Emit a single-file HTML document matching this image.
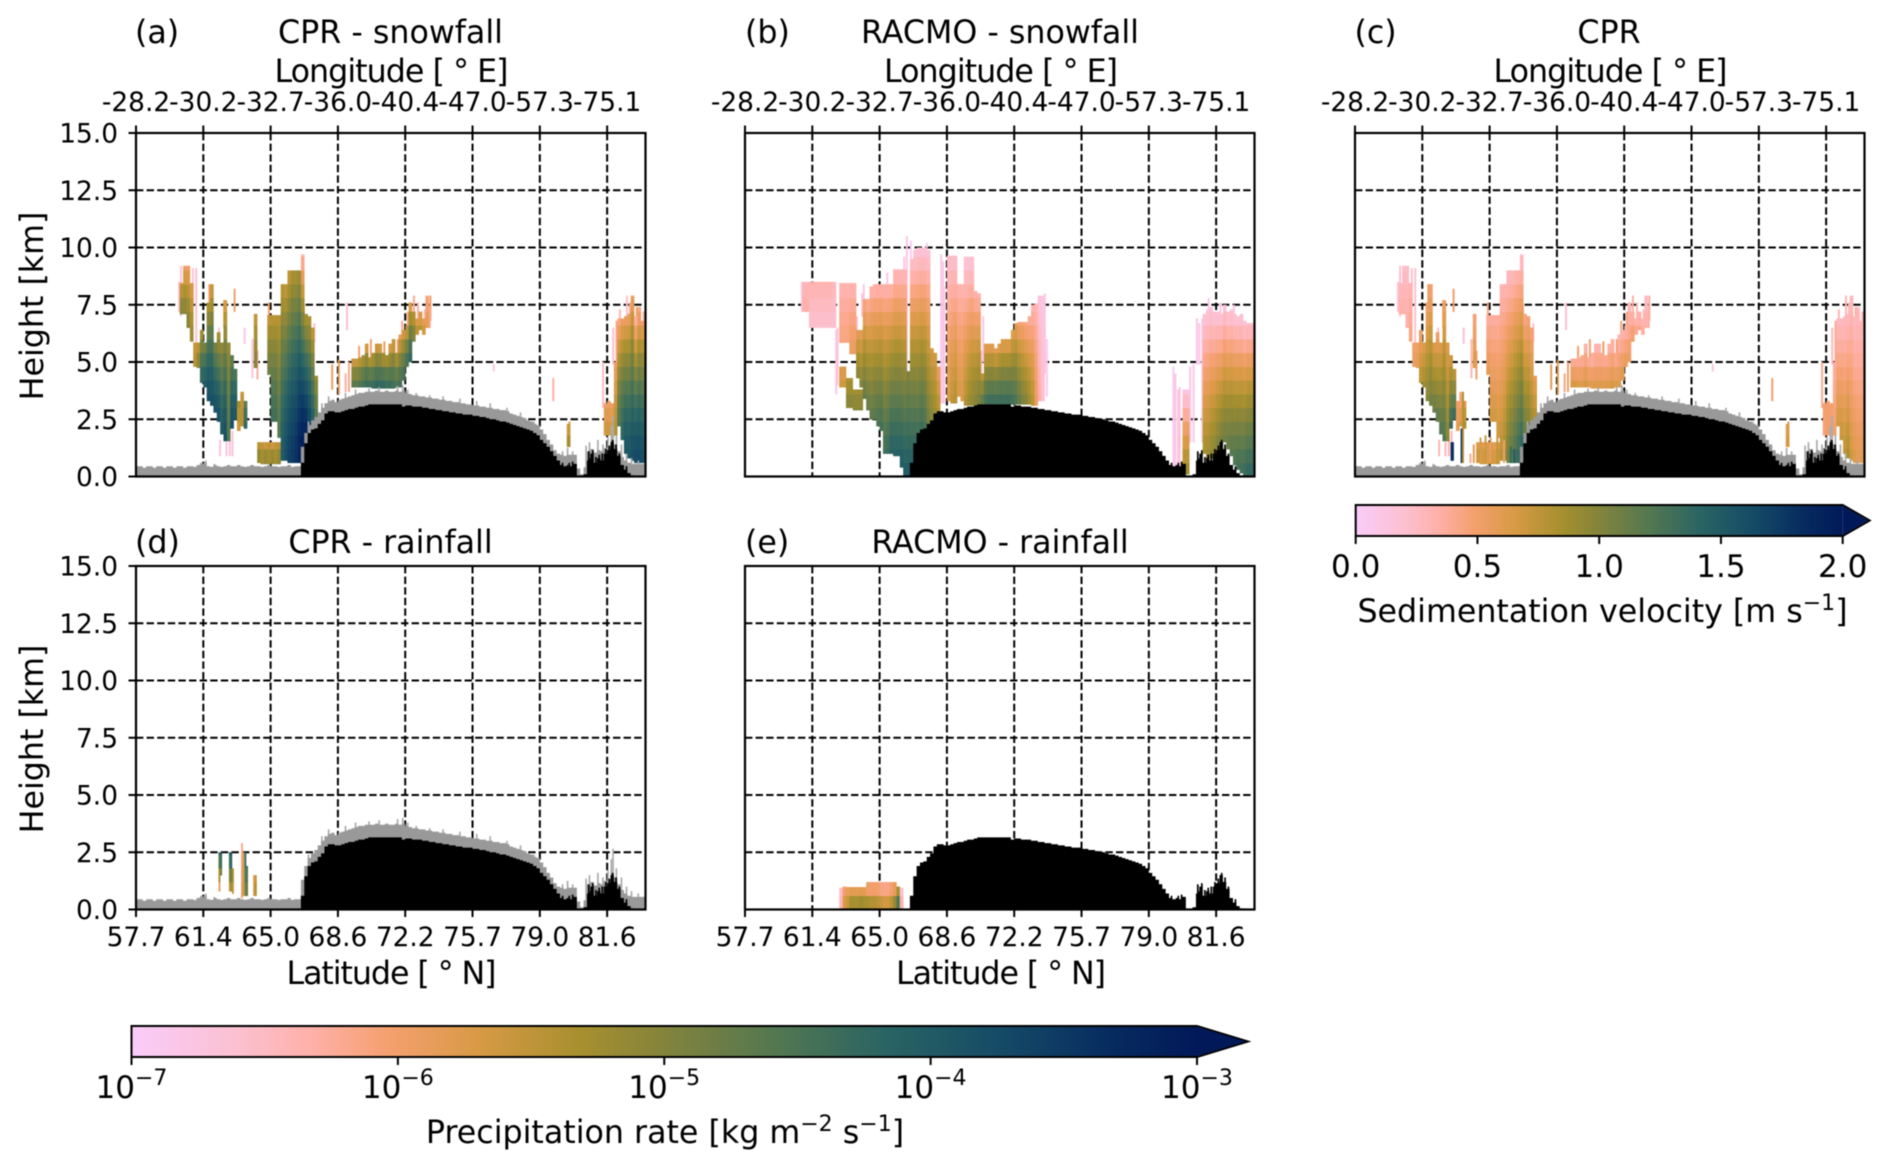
<!DOCTYPE html>
<html lang="en">
<head>
<meta charset="utf-8">
<title>CPR and RACMO precipitation cross-sections</title>
<style>
html,body{margin:0;padding:0;background:#fff;width:1892px;height:1169px;overflow:hidden}
#figure{display:block;filter:blur(.65px)}
text{font-family:"DejaVu Sans","Liberation Sans",sans-serif;fill:#000}
.big{font-size:31.7px}
.tick{font-size:26.4px}
.cb{font-size:31px}
.cbl{font-size:31.7px}
</style>
</head>
<body>
<svg id="figure" xmlns="http://www.w3.org/2000/svg" width="1892" height="1169" viewBox="0 0 1892 1169">
  <rect width="1892" height="1169" fill="#fff"/>
  <defs id="defs"></defs>
  <g id="panels"></g>

  <text class="big" x="135" y="43">(a)</text>
  <text class="big" x="390.5" y="43" text-anchor="middle">CPR - snowfall</text>
  <text class="big" x="391.5" y="82" text-anchor="middle" textLength="234">Longitude [ ° E]</text>

  <text class="big" x="745" y="43">(b)</text>
  <text class="big" x="1000" y="43" text-anchor="middle">RACMO - snowfall</text>
  <text class="big" x="1001" y="82" text-anchor="middle" textLength="234">Longitude [ ° E]</text>

  <text class="big" x="1354.5" y="43">(c)</text>
  <text class="big" x="1609" y="43" text-anchor="middle">CPR</text>
  <text class="big" x="1610.5" y="82" text-anchor="middle" textLength="234">Longitude [ ° E]</text>

  <text class="big" x="135" y="553">(d)</text>
  <text class="big" x="390.5" y="553" text-anchor="middle">CPR - rainfall</text>
  <text class="big" x="391.5" y="984" text-anchor="middle" textLength="210">Latitude [ ° N]</text>

  <text class="big" x="745" y="553">(e)</text>
  <text class="big" x="1000" y="553" text-anchor="middle">RACMO - rainfall</text>
  <text class="big" x="1001" y="984" text-anchor="middle" textLength="210">Latitude [ ° N]</text>

  <text class="big" transform="translate(43,306) rotate(-90)" text-anchor="middle">Height [km]</text>
  <text class="big" transform="translate(43,739) rotate(-90)" text-anchor="middle">Height [km]</text>

  <text class="cbl" x="1602.5" y="622" text-anchor="middle">Sedimentation velocity [m s<tspan font-size="22" dy="-12">−1</tspan><tspan dy="12">]</tspan></text>
  <text class="cbl" x="665" y="1143" text-anchor="middle">Precipitation rate [kg m<tspan font-size="22" dy="-12">−2</tspan><tspan dy="12"> s</tspan><tspan font-size="22" dy="-12">−1</tspan><tspan dy="12">]</tspan></text>

  <g id="colorbars"></g>
</svg>

<script>
// ---------- axis tick labels ----------
const lonLabels = ['-28.2','-30.2','-32.7','-36.0','-40.4','-47.0','-57.3','-75.1'];
const latLabels = ['57.7','61.4','65.0','68.6','72.2','75.7','79.0','81.6'];
const heightTicks = [0, 2.5, 5, 7.5, 10, 12.5, 15];
const tickBins = [0, 20, 40, 60, 80, 100, 120, 140];
const rateTicks = [-7, -6, -5, -4, -3];
const velocityTicks = [0, 0.5, 1, 1.5, 2];

// ---------- surface (km) per along-track bin ----------
const terrainHeight = [
 0,0,0,0,0,0,0,0,0,0, 0,0,0,0,0,0,0,0,0,0, 0,0,0,0,0,0,0,0,0,0, 0,0,0,0,0,0,0,0,0,0, 0,0,0,0,0,0,0,0,0,
 0.6,1.45,1.9,2.05,2.1,2.3,2.45,2.75,2.85,2.85,
 2.8,2.8,2.85,2.9,2.95,2.95,3.0,3.05,3.05,3.1,
 3.15,3.15,3.15,3.15,3.15,3.15,3.15,3.15,3.15,3.15,
 3.05,3.1,3.1,3.05,3.05,3.05,3.0,3.0,2.95,2.95,
 2.9,2.9,2.85,2.85,2.8,2.8,2.75,2.75,2.7,2.7,
 2.7,2.65,2.65,2.6,2.6,2.55,2.5,2.5,2.45,2.4,
 2.4,2.35,2.3,2.25,2.2,2.15,2.1,2.05,2.0,1.9,
 1.8,1.6,1.45,1.3,1.1,0.9,0.7,0.5,0.45,0.5,
 0.45,0.55,0,0,0.1,0.7,1.0,0.6,0.8,0.7,
 1.0,1.15,1.5,1.2,0.9,0.5,0.3,0.15,0.05,0.02,
 0,0,0
];
const clutterTop = [
 0.45,0.45,0.38,0.45,0.45,0.38,0.45,0.45,0.38,0.45,
 0.45,0.38,0.45,0.45,0.38,0.45,0.45,0.42,0.5,0.55,
 0.6,0.45,0.42,0.5,0.45,0.42,0.45,0.5,0.45,0.45,
 0.5,0.45,0.42,0.45,0.5,0.45,0.45,0.42,0.45,0.5,
 0.45,0.45,0.42,0.45,0.45,0.5,0.42,0.45,0.45,
 1.3,1.9,2.25,2.45,2.6,2.8,3.0,3.2,3.3,3.35,
 3.25,3.35,3.4,3.45,3.5,3.55,3.6,3.65,3.65,3.7,
 3.7,3.7,3.75,3.7,3.7,3.75,3.7,3.7,3.75,3.7,
 3.75,3.65,3.6,3.55,3.55,3.5,3.5,3.45,3.45,3.4,
 3.4,3.35,3.35,3.3,3.3,3.25,3.25,3.2,3.2,3.15,
 3.15,3.1,3.1,3.05,3.05,3.0,3.0,2.95,2.95,2.9,
 2.9,2.85,2.75,2.7,2.65,2.6,2.55,2.45,2.4,2.3,
 2.25,2.05,1.85,1.6,1.4,1.15,1.0,0.95,0.9,0.95,
 0.95,0.95,0.35,0.1,0.4,1.1,1.2,1.05,1.15,1.1,
 1.25,1.3,1.6,1.4,1.1,0.85,0.7,0.6,0.55,0.55,
 0.55,0.55,0.55
];
const clutterSpikeBin = [19,20.5,23,51,55,57,62,65,69,72,77.5,79,80.5,83,87,91,96,101,105,110,114,118,126.5,128,129.5,133.5,134.5,135.5,137,138.5,140,141,141.5,142.5,144,145.5,147,149];
const clutterSpikeTop = [0.6,0.7,0.55,2.4,3.2,3.5,3.65,3.8,3.85,3.9,3.95,4.0,3.8,3.65,3.55,3.5,3.4,3.3,3.2,3.0,2.8,2.4,1.1,1.25,1.1,1.35,1.5,1.2,1.6,1.4,1.7,2.2,2.65,1.8,1.4,1.0,0.8,0.7];
const terrainSpikeBin = [126.5,128.5,129.5,134.3,134.8,135.5,136.4,137.4,138.3,139.4,140.4,141.4,142.4,143.4,145.5];
const terrainSpikeTop = [0.6,0.6,0.65,1.1,0.8,1.15,0.85,0.95,1.0,1.2,1.35,1.6,1.4,1.0,0.45];

// ---------- CPR profiles, panels (a) and (c): bin, base km, top km ----------
const cprBin = [13,14,15,16,17,18,19,20,21,22,23,24,25,26,27,28,29,30,31,32,35,36,37,38,39,40,41,42,
 39,40,41,42,43,44,45,46,47,48,49,50,51,52,53,
 64,65,66,67,68,69,70,71,72,73,74,75,76,77,78,79,80,81,82,83,84,85,86,
 128,139,140,141,142,143,144,145,146,147,148,149,150,151];
const cprBase = [7.1,7.1,6.5,5.9,4.8,4.75,4.1,3.9,3.3,3.1,2.8,2.4,1.85,1.55,1.55,2.1,2.5,2.0,2.2,2.1,4.75,0.6,0.55,0.55,0.55,0.55,0.55,0.55,
 4.45,2.4,2.4,1.7,0.7,0.7,0.6,0.6,0.6,0.6,0.6,0.6,0.9,1.4,2.0,
 3.9,3.9,3.9,3.9,3.9,3.9,3.85,3.85,3.85,3.85,3.85,3.85,3.85,3.9,3.9,4.2,4.8,5.0,5.9,6.2,6.4,6.2,6.5,
 1.3,1.8,1.8,1.7,1.8,2.2,1.6,1.0,0.8,0.7,0.6,0.6,0.6,0.6];
const cprTop = [8.45,9.2,9.2,8.45,5.85,5.85,6.4,5.85,7.6,8.4,5.85,6.3,5.85,7.7,5.85,5.3,4.7,3.3,3.7,3.3,7.1,1.5,1.5,1.5,1.5,1.5,1.5,1.5,
 7.05,7.05,7.05,7.05,8.4,8.4,9.0,9.0,9.0,9.0,9.7,7.1,7.0,6.5,4.4,
 5.15,5.15,5.2,5.3,5.8,5.2,5.4,5.8,5.8,5.4,5.3,5.8,6.0,5.4,6.2,6.4,6.6,7.6,7.2,6.9,7.2,6.9,7.9,
 2.3,3.2,3.3,3.2,5.0,6.9,6.9,7.0,7.1,7.9,7.0,7.4,6.8,6.8];
// log10 precipitation rate at the top and base of each CPR snowfall profile
const snowCprTopRate = [-5.7,-6.0,-6.0,-5.8,-5.6,-5.6,-5.4,-5.0,-5.4,-5.7,-5.0,-5.4,-5.2,-5.8,-5.2,-4.8,-4.6,-5.2,-5.6,-4.8,-5.6,-5.6,-5.6,-5.8,-5.6,-5.8,-5.6,-5.6,
 -5.6,-5.5,-5.5,-5.5,-5.5,-5.6,-5.6,-5.4,-5.4,-5.3,-6.4,-5.4,-5.4,-5.6,-5.2,
 -5.8,-5.8,-5.7,-5.6,-5.9,-5.6,-5.6,-5.8,-5.9,-5.6,-5.6,-5.9,-5.8,-5.6,-5.9,-5.8,-5.8,-5.9,-5.6,-5.9,-6.0,-5.9,-6.2,
 -5.8,-6.0,-6.0,-6.0,-6.0,-6.2,-6.0,-6.0,-6.0,-6.0,-6.4,-6.2,-6.0,-6.2];
const snowCprBaseRate = [-5.0,-5.0,-5.0,-5.2,-5.4,-5.0,-4.2,-4.0,-3.8,-3.8,-3.8,-3.8,-4.0,-3.8,-4.6,-3.8,-3.9,-5.6,-5.4,-4.2,-5.0,-5.0,-5.2,-5.0,-5.2,-5.0,-5.2,-5.0,
 -4.8,-4.4,-4.4,-4.6,-4.0,-3.8,-3.6,-3.5,-3.4,-3.2,-3.0,-3.0,-3.4,-3.9,-4.5,
 -4.6,-4.6,-4.5,-4.4,-4.3,-4.3,-4.3,-4.2,-4.2,-4.2,-4.3,-4.3,-4.4,-4.5,-4.4,-4.4,-4.4,-4.2,-4.9,-5.4,-5.4,-5.6,-5.8,
 -5.2,-5.6,-5.6,-5.6,-5.4,-4.6,-4.2,-3.9,-3.9,-3.8,-3.7,-3.7,-3.8,-3.7];
// sedimentation velocity (m/s) at the top and base of each CPR profile
const cprTopVelocity = [0.25,0.22,0.22,0.3,0.5,0.5,0.5,0.6,0.5,0.45,0.6,0.5,0.6,0.5,0.6,0.65,0.7,0.5,0.4,0.6,0.45,0.6,0.6,0.55,0.6,0.6,0.55,0.6,
 0.35,0.35,0.35,0.35,0.3,0.3,0.25,0.25,0.28,0.3,0.22,0.4,0.45,0.45,0.55,
 0.35,0.35,0.35,0.35,0.3,0.35,0.3,0.28,0.28,0.35,0.35,0.3,0.3,0.35,0.3,0.3,0.3,0.28,0.3,0.3,0.28,0.28,0.25,
 0.6,0.5,0.5,0.5,0.35,0.25,0.25,0.25,0.25,0.25,0.25,0.25,0.28,0.25];
const cprBaseVelocity = [0.35,0.35,0.35,0.45,0.55,0.6,0.8,0.9,1.0,1.1,1.15,1.2,1.25,1.25,1.0,1.4,1.4,0.6,0.7,0.9,0.65,0.75,0.7,0.75,0.65,0.75,0.7,0.75,
 0.6,0.7,0.7,0.7,0.8,0.9,1.1,1.2,1.3,1.4,1.5,1.3,1.2,1.0,0.9,
 0.7,0.7,0.65,0.65,0.7,0.65,0.65,0.65,0.65,0.65,0.65,0.65,0.7,0.65,0.65,0.65,0.6,0.55,0.55,0.45,0.45,0.4,0.35,
 0.7,0.45,0.5,0.45,0.5,0.7,0.75,0.75,0.85,0.7,0.65,0.6,0.6,0.5];
// thin isolated CPR streaks
const streakBin = [13.1,16.6,21.5,29,25.9,32,24.4,58,60,62.4,52.7,24.7,28.4,34.3,35.8,39.2,49.6,123.7,106,128.5,138.5,145.6,148.5,87.2,82.3,
 12.5,17.6,26.6,27.6,66,69.5,73.5,77.5,78.8,80.5,83.5,85.5,63,62,87,143.5,146.5,150.5,141.5,142.5];
const streakBase = [7,7.5,7.5,7.2,6.5,5.8,5.8,3.8,3.6,6.4,5.9,0.9,0.9,4.3,4.25,7,7,3.3,4.6,1.3,3,7,7,6.8,7,
 7.2,5.8,0.9,0.9,5.2,5.2,5.3,5.4,6,6.4,6.9,6.9,3.7,3.7,6.5,6.9,7.1,6.8,4.9,5];
const streakTop = [9.2,9.1,8.4,8.2,7.7,6.5,6.5,4.9,5.1,7.6,6.7,1.6,2,6,5.5,7.6,7.5,4.3,4.9,2.4,5,7.9,7.4,7.9,7.9,
 8.5,9.1,1.5,1.6,5.7,6,5.9,6,6.8,7.2,7.6,7.3,5,4.5,7.4,7.3,7.6,7.2,6.5,6.8];
const streakSnowRate = [-6.7,-6.7,-6,-6,-5.9,-6.8,-6.7,-5.9,-5.9,-6.6,-6.6,-6.7,-6.7,-6.7,-6.3,-6,-6,-6.3,-6.8,-5.8,-6.5,-6.6,-6,-6,-6.2,
 -6.6,-6.6,-6.7,-6.7,-6,-6,-5.9,-6,-6.2,-6.1,-6.3,-6.4,-6.2,-6.3,-6.2,-6.4,-6.2,-6.4,-6.6,-6.2];
const streakVelocity = [0.2,0.2,0.55,0.5,0.5,0.2,0.2,0.6,0.6,0.2,0.2,0.3,0.3,0.3,0.5,0.45,0.5,0.5,0.15,0.6,0.4,0.3,0.4,0.35,0.35,
 0.2,0.2,0.3,0.3,0.5,0.5,0.55,0.5,0.45,0.45,0.3,0.3,0.5,0.45,0.35,0.3,0.3,0.3,0.25,0.4];
const velocityOnlyBin = [28.4,28.8,31.4,31.8,34,35,37,38.5,40,42,44,46,47];
const velocityOnlyBase = [0.7,0.7,0.6,0.6,0.6,0.6,0.6,0.6,0.6,0.6,0.6,0.6,0.6];
const velocityOnlyTop = [1.5,1.5,2.1,3.7,1.0,1.4,1.7,1.8,1.7,1.7,1.6,1.3,1.2];
const velocityOnlyValue = [1.85,1.8,1.9,0.8,0.4,0.6,0.65,0.7,0.55,0.75,0.5,1.35,1.5];

// ---------- RACMO snowfall, panel (b) ----------
const racmoSnowBin = [17,18,19,20,21,22,23,24,25,26,28,29,30,31,32,
 28,29,30,31,32,33,34,
 33,34,35,36,37,38,39,40,41,42,43,44,45,46,47,48,49,50,51,52,53,54,55,56,57,
 60,61,62,63,64,65,66,67,68,69,70,71,72,73,74,75,76,77,78,79,80,81,82,83,84,85,86,87,88,
 130,131,136,137,138,139,140,141,142,143,144,145,146,147,148,149,150,151];
const racmoSnowBase = [7.2,7.2,6.5,6.5,6.5,6.5,6.5,6.5,6.5,6.5,5.85,5.85,5.85,5.35,5.35,
 3.9,3.9,3.0,3.0,2.9,2.9,2.9,
 4.3,3.9,3.4,2.9,2.5,2.5,2.2,2.0,1.0,1.0,1.0,0.9,0.9,0.4,0,0,0,0,0.3,1.2,1.6,2,2.2,2.5,2.8,
 3.3,3.2,3.2,3.5,3.3,3.1,3.1,3.1,3.1,3.1,3.1,3.1,3.1,3.1,3.1,3.15,3.15,3.15,3.15,3.15,3.15,3.15,3.15,3.15,3.15,3.1,3.1,3.3,3.3,
 0.1,0.1,1.0,0.6,0.8,0.7,1.0,1.15,1.5,1.2,0.9,0.5,0.3,0.15,0,0,0,0];
const racmoSnowTop = [8.5,8.5,8.5,8.5,8.5,8.5,8.5,8.5,8.5,8.5,8.45,8.45,8.45,8.45,8.45,
 4.8,4.8,4.3,4.3,3.8,3.8,3.8,
 6.4,6.4,7.75,7.75,8.3,8.4,8.4,8.4,8.4,8.4,8.4,9.05,9.05,9.05,9.05,4.6,9.5,9.9,10,10,10,9.9,5.6,5.4,4.8,
 9.65,9.65,9.65,8.4,8.4,9.6,9.6,9.6,8.1,8.0,4.5,5.8,5.8,5.8,5.6,5.8,6,6,6,6.4,6.7,6.75,6.75,6.75,7.0,7.5,7.55,7.9,7.9,
 3.8,3.8,7.1,7.3,7.4,7.2,7.2,7.1,7.5,7.2,7.3,7.1,7.0,7.1,6.8,6.7,6.7,6.7];
const racmoSnowTopRate = [-6.45,-6.45,-6.35,-6.35,-6.35,-6.35,-6.35,-6.35,-6.35,-6.45,-6.4,-6.4,-6.4,-6.4,-6.4,
 -5.8,-5.8,-5.4,-5.4,-5.3,-5.3,-5.3,
 -5.9,-5.9,-6.2,-6.3,-6.4,-6.4,-6.4,-6.4,-6.4,-6.4,-6.4,-6.5,-6.5,-6.5,-6.5,-5,-6.6,-6.7,-6.7,-6.7,-6.7,-6.7,-5.7,-5.7,-6,
 -6.6,-6.6,-6.6,-6.4,-6.4,-6.7,-6.7,-6.7,-6.4,-6.4,-5.6,-5.9,-5.9,-5.9,-5.9,-5.9,-5.9,-5.9,-5.9,-5.9,-5.9,-6.1,-6.1,-6.2,-6.3,-6.4,-6.4,-6.7,-6.8,
 -6.8,-6.8,-6.7,-6.7,-6.7,-6.7,-6.7,-6.7,-6.7,-6.7,-6.7,-6.7,-6.7,-6.7,-6.7,-6.6,-6.6,-6.6];
const racmoSnowBaseRate = [-6.3,-6.3,-6.6,-6.6,-6.6,-6.6,-6.6,-6.6,-6.6,-6.6,-6.1,-6.1,-6.1,-5.9,-5.9,
 -5.6,-5.6,-5,-5,-5,-5,-5,
 -5,-5,-4.7,-4.7,-4.7,-4.6,-4.5,-4.4,-4.4,-4.3,-4.1,-4.1,-4.1,-4,-4,-4,-4,-4,-4.1,-4.2,-4.4,-4.8,-5,-5.2,-5.4,
 -5.7,-5.5,-5.4,-5.7,-5.7,-5.4,-5.2,-5.1,-5,-4.9,-4.6,-4.4,-4.3,-4.3,-4.3,-4.3,-4.3,-4.3,-4.3,-4.4,-4.5,-4.7,-4.9,-5,-5.2,-5.4,-5.9,-6.3,-6.6,
 -5.2,-5.2,-5.3,-5.2,-5.1,-5,-4.9,-4.8,-4.8,-4.7,-4.6,-4.5,-4.4,-4.4,-4.3,-4.2,-4.2,-4.2];
const racmoStreakBin = [58,58.6,47.8,127,127.6,128.4,128.9,134,134.7,132,133,24,26.8,35,27.2,
 16.6,26.5,33,34.5,42,47,49,53.8,54.5,57.5,58.9,62.9,69.9,70.5,88.8,89.4,135.6,137.5,141,145];
const racmoStreakBase = [3.2,3.2,4.6,0.4,0.4,0.4,0.4,4.9,4.9,1.5,1.5,6.5,3.6,7.2,4,
 7.2,6.5,6.4,7,8.4,9.05,9.5,10,5.6,3,3.2,5,3.4,5,4.5,3.5,1.5,7.3,7.1,7.1];
const racmoStreakTop = [9.7,9.4,10.5,4.8,4.5,3.8,3.9,6.9,6.7,4.8,4.9,8.5,6.4,8.4,6.5,
 8.5,8.4,7,8,8.9,9.6,10.3,10.2,9.8,4.8,8.3,8,5.5,7,8,6,6.9,7.8,7.6,7.5];
const racmoStreakRate = [-6.8,-6.8,-6.8,-6.9,-6.8,-6.7,-6.8,-6.8,-6.8,-6.8,-6.8,-6.4,-6.8,-6.8,-6.7,
 -6.8,-6.7,-6.7,-6.7,-6.8,-6.8,-6.9,-6.9,-6.7,-6.7,-6.8,-6.7,-6.5,-6.8,-6.8,-6.9,-6.8,-6.8,-6.8,-6.8];

// ---------- rainfall, panels (d) and (e) ----------
const cprRainBin = [24.5,25,27.6,28,28.5,31.2,31.6,32.2,32.7,34.8,35.3];
const cprRainBase = [0.8,1.5,0.8,0.8,0.7,0.5,0.6,0.6,0.6,0.6,0.6];
const cprRainTop = [2.5,2.5,2.5,2.5,1.8,2.9,2.5,2.5,1.9,1.5,1.5];
const cprRainTopRate = [-4.2,-3.9,-4,-3.8,-5.2,-6.2,-5.8,-4.2,-4.4,-5.8,-5.6];
const cprRainBaseRate = [-6.2,-5,-5.8,-5.4,-5.6,-6,-5.6,-5,-4.8,-5.7,-5.2];
const racmoRainBin = [28,29,30,31,32,33,34,35,36,37,38,39,40,41,42,43,44,45,46];
const racmoRainBase = [0,0,0,0,0,0,0,0,0,0,0,0,0,0,0,0,0,0,0];
const racmoRainTop = [0.95,1,0.98,0.98,0.98,0.98,0.98,0.98,1.2,1.2,1.2,1.2,1.2,1.2,1.2,1.2,1.2,1,0.95];
const racmoRainTopRate = [-6.6,-6.1,-6,-6,-6,-6,-6,-6,-6.3,-6.3,-6.3,-6.3,-6.4,-6.4,-6.4,-6.3,-6.2,-5.6,-6.7];
const racmoRainBaseRate = [-6.4,-5.6,-5.4,-5,-5,-5,-4.9,-5,-5,-5.1,-5.1,-5.2,-5.3,-5.4,-5.4,-5.2,-4.8,-4.1,-6.2];

// ---------- plot layout & colormap ----------
const BIN_SPAN = 151.4, KM_SPAN = 15, CELL_KM = 0.6;
const cmapStops = [[0,'#FACCFA'],[0.1,'#FCC0D0'],[0.17,'#FFB0A8'],[0.24,'#F5A070'],[0.325,'#D89A45'],[0.42,'#A8902F'],[0.49,'#88853A'],[0.6,'#557850'],[0.707,'#2A6463'],[0.815,'#154B66'],[0.92,'#072B60'],[1,'#011959']];
const NS = 'http://www.w3.org/2000/svg';

function hexToRgb(h){return [1,3,5].map(i=>parseInt(h.substr(i,2),16));}
function cmap(t){
  t=Math.max(0,Math.min(1,t));
  for(let i=1;i<cmapStops.length;i++){
    if(t<=cmapStops[i][0]){
      const a=cmapStops[i-1],b=cmapStops[i],f=(t-a[0])/(b[0]-a[0]);
      const A=hexToRgb(a[1]),B=hexToRgb(b[1]);
      return 'rgb('+A.map((v,k)=>Math.round(v+(B[k]-v)*f)).join(',')+')';
    }
  }
  return cmapStops[cmapStops.length-1][1];
}
const rateScale = v => (v+7)/4;
const velocityScale = v => v/2;

function make(tag,parent,attrs){
  const el=document.createElementNS(NS,tag);
  for(const k in attrs) el.setAttribute(k,attrs[k]);
  parent.appendChild(el);
  return el;
}

function xScale(p,bin){return p.x+bin*p.w/BIN_SPAN;}
function yScale(p,km){return p.y+p.h*(1-km/KM_SPAN);}

function drawColumns(p,group,s){
  s.bin.forEach((bin,i)=>{
    const lo=s.base[i],hi=s.top[i];
    let k=Math.floor(lo/CELL_KM+1e-6);
    while(k*CELL_KM<hi-1e-6){
      const c0=Math.max(lo,k*CELL_KM),c1=Math.min(hi,(k+1)*CELL_KM);
      const frac=hi>lo?((c0+c1)/2-lo)/(hi-lo):0;
      const val=s.baseVal[i]+(s.topVal[i]-s.baseVal[i])*Math.pow(frac,s.ease||1);
      const x0=xScale(p,bin),x1=xScale(p,bin+s.width);
      const cell=make('rect',group,{x:x0,y:yScale(p,c1),width:x1-x0+0.3,height:yScale(p,c0)-yScale(p,c1)+0.3,fill:cmap(s.scale(val))});
      
      
      k++;
    }
  });
}

function stepPath(p,heights){
  let d='M'+xScale(p,0)+' '+yScale(p,0);
  heights.forEach((h,i)=>{
    d+='L'+xScale(p,i)+' '+yScale(p,h)+'L'+xScale(p,i+1)+' '+yScale(p,h);
  });
  d+='L'+xScale(p,heights.length)+' '+yScale(p,0)+'Z';
  return d;
}

function drawPanel(p){
  const root=document.getElementById('panels');
  const g=make('g',root,{});
  
  
  const defs=document.getElementById('defs');
  const clip=make('clipPath',defs,{id:'clip-'+p.id});
  make('rect',clip,{x:p.x,y:p.y,width:p.w,height:p.h});

  const plot=make('g',g,{'clip-path':'url(#clip-'+p.id+')'});
  
  

  heightTicks.forEach(km=>{
    const l=make('line',plot,{x1:p.x,x2:p.x+p.w,y1:yScale(p,km),y2:yScale(p,km),stroke:'#000','stroke-width':2,'stroke-dasharray':'7.4 3.2'});
    
    
  });
  tickBins.forEach(b=>{
    const l=make('line',plot,{x1:xScale(p,b),x2:xScale(p,b),y1:p.y,y2:p.y+p.h,stroke:'#000','stroke-width':2,'stroke-dasharray':'7.4 3.2'});
    
    
  });

  p.layers.forEach(s=>drawColumns(p,plot,s));

  if(p.clutter){
    clutterSpikeBin.forEach((b,i)=>{
      const x0=xScale(p,b),x1=xScale(p,b+0.5);
      const sp=make('rect',plot,{x:x0,y:yScale(p,clutterSpikeTop[i]),width:x1-x0,height:yScale(p,0)-yScale(p,clutterSpikeTop[i]),fill:'#ababab'});
      
      
    });
    const c=make('path',plot,{d:stepPath(p,clutterTop),fill:'#999999'});
    
    
  }
  const t=make('path',plot,{d:stepPath(p,terrainHeight),fill:'#000'});
  
  
  terrainSpikeBin.forEach((b,i)=>{
    const x0=xScale(p,b),x1=xScale(p,b+0.5);
    const sp=make('rect',plot,{x:x0,y:yScale(p,terrainSpikeTop[i]),width:x1-x0,height:yScale(p,0)-yScale(p,terrainSpikeTop[i]),fill:'#000'});
    
    
  });

  const spine=make('rect',g,{x:p.x,y:p.y,width:p.w,height:p.h,fill:'none',stroke:'#000','stroke-width':2.2});
  
  

  tickBins.forEach((b,i)=>{
    const X=xScale(p,b);
    const y0=p.topTicks?p.y:p.y+p.h, y1=p.topTicks?p.y-7.5:p.y+p.h+7.5;
    const tk=make('line',g,{x1:X,x2:X,y1:y0,y2:y1,stroke:'#000','stroke-width':2});
    
    
    const lab=make('text',g,{x:X,y:p.topTicks?111:946,'text-anchor':'middle',class:'tick'});
    lab.textContent=p.topTicks?lonLabels[i]:latLabels[i];
    
    
  });
  if(p.yTicks){
    heightTicks.forEach(km=>{
      const Y=yScale(p,km);
      const tk=make('line',g,{x1:p.x-7.5,x2:p.x,y1:Y,y2:Y,stroke:'#000','stroke-width':2});
      
      
      const lab=make('text',g,{x:p.x-18,y:Y+9.5,'text-anchor':'end',class:'tick'});
      lab.textContent=km.toFixed(1);
      
      
    });
  }
}

const THIN=0.5, FULL=1, PANEL_W=509.5, PANEL_H=343.5;
const panels=[
 {id:'a',x:136,y:133,w:PANEL_W,h:PANEL_H,topTicks:true,yTicks:true,clutter:true,layers:[
  {bin:streakBin,base:streakBase,top:streakTop,topVal:streakSnowRate,baseVal:streakSnowRate,scale:rateScale,width:THIN},
  {bin:cprBin,base:cprBase,top:cprTop,topVal:snowCprTopRate,baseVal:snowCprBaseRate,scale:rateScale,width:FULL,ease:1.5}]},
 {id:'b',x:745,y:133,w:PANEL_W,h:PANEL_H,topTicks:true,yTicks:false,clutter:false,layers:[
  {bin:racmoStreakBin,base:racmoStreakBase,top:racmoStreakTop,topVal:racmoStreakRate,baseVal:racmoStreakRate,scale:rateScale,width:THIN},
  {bin:racmoSnowBin,base:racmoSnowBase,top:racmoSnowTop,topVal:racmoSnowTopRate,baseVal:racmoSnowBaseRate,scale:rateScale,width:FULL,ease:1.2}]},
 {id:'c',x:1355,y:133,w:PANEL_W,h:PANEL_H,topTicks:true,yTicks:false,clutter:true,layers:[
  {bin:streakBin,base:streakBase,top:streakTop,topVal:streakVelocity,baseVal:streakVelocity,scale:velocityScale,width:THIN},
  {bin:cprBin,base:cprBase,top:cprTop,topVal:cprTopVelocity,baseVal:cprBaseVelocity,scale:velocityScale,width:FULL},
  {bin:velocityOnlyBin,base:velocityOnlyBase,top:velocityOnlyTop,topVal:velocityOnlyValue,baseVal:velocityOnlyValue,scale:velocityScale,width:THIN}]},
 {id:'d',x:136,y:566,w:PANEL_W,h:PANEL_H,topTicks:false,yTicks:true,clutter:true,layers:[
  {bin:cprRainBin,base:cprRainBase,top:cprRainTop,topVal:cprRainTopRate,baseVal:cprRainBaseRate,scale:rateScale,width:THIN}]},
 {id:'e',x:745,y:566,w:PANEL_W,h:PANEL_H,topTicks:false,yTicks:false,clutter:false,layers:[
  {bin:racmoRainBin,base:racmoRainBase,top:racmoRainTop,topVal:racmoRainTopRate,baseVal:racmoRainBaseRate,scale:rateScale,width:FULL}]}
];
panels.forEach(drawPanel);

// ---------- colorbars ----------
(function(){
  const defs=document.getElementById('defs');
  const grad=make('linearGradient',defs,{id:'batlow-gradient',x1:0,x2:1,y1:0,y2:0});
  cmapStops.forEach(s=>make('stop',grad,{offset:s[0],'stop-color':s[1]}));
  const host=document.getElementById('colorbars');

  function colorbar(name,x,y,w,h,tip){
    const g=make('g',host,{});
    
    
    const bar=make('rect',g,{x,y,width:w,height:h,fill:'url(#batlow-gradient)'});
    
    
    const arrow=make('path',g,{d:`M${x} ${y}H${x+w}L${x+w+tip} ${y+h/2}L${x+w} ${y+h}H${x}Z`,fill:'none',stroke:'#000','stroke-width':2});
    
    
    const cap=make('path',g,{d:`M${x+w} ${y+1}L${x+w+tip-2} ${y+h/2}L${x+w} ${y+h-1}Z`,fill:'#011959'});
    
    
    return g;
  }

  const velX=1355.7,velW=487,velY=505,velH=31;
  const vg=colorbar('velocity-colorbar',velX,velY,velW,velH,27);
  velocityTicks.forEach(v=>{
    const X=velX+velW*velocityScale(v);
    const tk=make('line',vg,{x1:X,x2:X,y1:velY+velH,y2:velY+velH+8,stroke:'#000','stroke-width':2});
    
    
    const lab=make('text',vg,{x:X,y:577,'text-anchor':'middle',class:'cb'});
    lab.textContent=v.toFixed(1);
    
    
  });

  const rateX=131.5,rateW=1065.5,rateY=1026,rateH=31;
  const rg=colorbar('rate-colorbar',rateX,rateY,rateW,rateH,51);
  rateTicks.forEach(v=>{
    const X=rateX+rateW*rateScale(v);
    const tk=make('line',rg,{x1:X,x2:X,y1:rateY+rateH,y2:rateY+rateH+8,stroke:'#000','stroke-width':2});
    
    
    const lab=make('text',rg,{x:X,y:1098,'text-anchor':'middle',class:'cb'});
    
    
    lab.appendChild(document.createTextNode('10'));
    const sup=make('tspan',lab,{'font-size':22,dy:-13});
    sup.textContent='−'+Math.abs(v);
  });
})();
</script>
</body>
</html>
